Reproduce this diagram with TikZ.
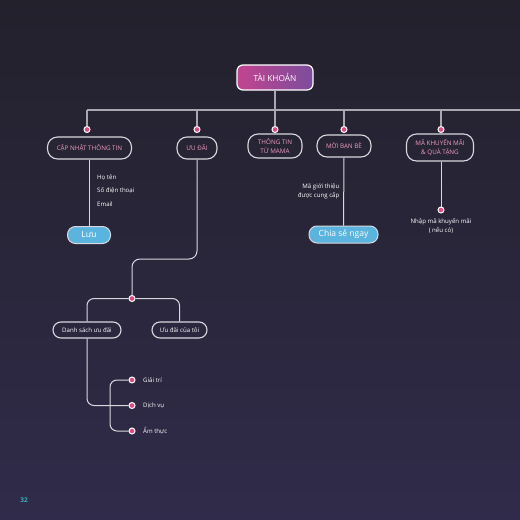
\documentclass[tikz,border=0pt]{standalone}
\usepackage{fontspec}
\setmainfont{Open Sans}
\definecolor{bgtop}{HTML}{23212C}
\definecolor{bgbot}{HTML}{302B4A}
\definecolor{barcol}{HTML}{A9A8B0}
\definecolor{linecol}{HTML}{D9D8DE}
\definecolor{pinktext}{HTML}{EE9CC2}
\definecolor{dotpink}{HTML}{E04A84}
\definecolor{btnblue}{HTML}{5AB4DD}
\definecolor{gradL}{HTML}{C2448F}
\definecolor{gradR}{HTML}{7B4D9C}
\definecolor{pagenum}{HTML}{3DB0C0}
\begin{document}
\begin{tikzpicture}[x=1pt,y=-1pt,
  box/.style={draw=linecol, line width=1.1pt, rounded corners=10pt, text=pinktext,
    font=\fontsize{6.3}{9}\selectfont, align=center, inner sep=0pt, minimum height=22pt},
  subbox/.style={draw=linecol, line width=1.1pt, rounded corners=8pt, text=white,
    font=\fontsize{6.1}{7}\selectfont, inner sep=0pt, minimum height=16pt},
  btn/.style={draw=linecol, line width=1pt, fill=btnblue, rounded corners=8pt, text=white,
    font=\fontsize{8.5}{10}\selectfont, inner sep=0pt, minimum height=17pt},
  dotn/.style={circle, fill=dotpink, draw=white, line width=1pt, minimum size=6pt, inner sep=0pt},
  lbl/.style={text=white, font=\fontsize{6.1}{9}\selectfont, inner sep=0pt},
  conn/.style={draw=linecol, line width=1pt},
  barline/.style={draw=barcol, line width=1.3pt}
]
\shade[top color=bgtop, bottom color=bgbot] (0,0) rectangle (520,520);
\useasboundingbox (0,0) rectangle (520,520);

% top node
\node[draw=white, line width=1.2pt, rounded corners=6pt, left color=gradL, right color=gradR,
  text=white, font=\fontsize{8.3}{10}\selectfont, minimum width=76pt, minimum height=25pt, inner sep=0pt]
  (tk) at (275,77.5) {TÀI KHOẢN};

% bar
\coordinate (barL) at (87,110);
\coordinate (barR) at (520,110);
\draw[barline] (barL) -- (barR);
\draw[barline] (tk.south) -- (tk.south |- barL);

% level-1 dots
\node[dotn] (d1) at (87,129.5) {};
\node[dotn] (d2) at (197,129.5) {};
\node[dotn] (d3) at (275,129.5) {};
\node[dotn] (d4) at (344,129.5) {};
\node[dotn] (d5) at (441,129.5) {};
\foreach \d in {d1,d2,d3,d4,d5} {\draw[barline] (\d.north) -- (\d |- barL);}

% level-1 boxes
\node[box, minimum width=84pt] (cn) at (89.5,148) {CẬP NHẬT THÔNG TIN};
\node[box, minimum width=40pt] (ud) at (197,148) {ƯU ĐÃI};
\node[box, minimum width=54pt, minimum height=24pt] (tt) at (275,146) {THÔNG TIN\\TỪ MAMA};
\node[box, minimum width=54pt] (mb) at (344,146) {MỜI BẠN BÈ};
\node[box, minimum width=67pt, minimum height=27pt] (mk) at (440,147.5) {MÃ KHUYẾN MÃI\\\& QUÀ TẶNG};

% cập nhật branch
\node[btn, minimum width=43pt] (luu) at (89,235) {Lưu};
\draw[conn] (cn.south -| luu) -- (luu.north);
\node[lbl, anchor=west] (l1) at (97,178) {Họ tên};
\node[lbl, anchor=west] (l2) at (97,190.5) {Số điện thoại};
\node[lbl, anchor=west] (l3) at (97,204.5) {Email};

% mời bạn bè branch
\node[btn, minimum width=69pt] (cs) at (343.5,234.5) {Chia sẻ ngay};
\draw[conn] (mb.south) -- (cs.north);
\node[lbl, align=right, anchor=east] (mg) at (339.5,191) {Mã giới thiệu\\được cung cấp};

% mã khuyến mãi branch
\node[dotn] (d6) at (441,210) {};
\draw[conn] (mk.south -| d6) -- (d6.north);
\node[lbl, align=center, anchor=north] (nm) at (441,218.5) {Nhập mã khuyến mãi\\( nếu có)};

% ưu đãi branch
\node[dotn] (d7) at (132,298.5) {};
\coordinate (u1) at (197,259);
\coordinate (u2) at (132,259);
\draw[conn, rounded corners=8pt] (ud.south) -- (u1) -- (u2) -- (d7.north);

\node[subbox, minimum width=68pt] (ds) at (87,330) {Danh sách ưu đãi};
\node[subbox, minimum width=55pt] (ct) at (179.5,330) {Ưu đãi của tôi};
\draw[conn, rounded corners=7pt] (d7.west) -- (ds.north |- d7) -- (ds.north);
\draw[conn, rounded corners=7pt] (d7.east) -- (ct.north |- d7) -- (ct.north);

% sub list
\node[dotn] (g1) at (132,380) {};
\node[dotn] (g2) at (132,405.5) {};
\node[dotn] (g3) at (132,431) {};
\draw[conn, rounded corners=7pt] (ds.south) -- (ds.south |- g2) -- (g2.west);
\coordinate (bx) at (110,405.5);
\draw[conn, rounded corners=7pt] (g1.west) -- (bx |- g1) -- (bx |- g3) -- (g3.west);
\node[lbl, anchor=west] (t1) at (143,380) {Giải trí};
\node[lbl, anchor=west] (t2) at (143,405.5) {Dịch vụ};
\node[lbl, anchor=west] (t3) at (143,431) {Ẩm thực};

% page number
\node[text=pagenum, font=\bfseries\fontsize{6.5}{8}\selectfont] (pg) at (24,500) {32};
\end{tikzpicture}
\end{document}
